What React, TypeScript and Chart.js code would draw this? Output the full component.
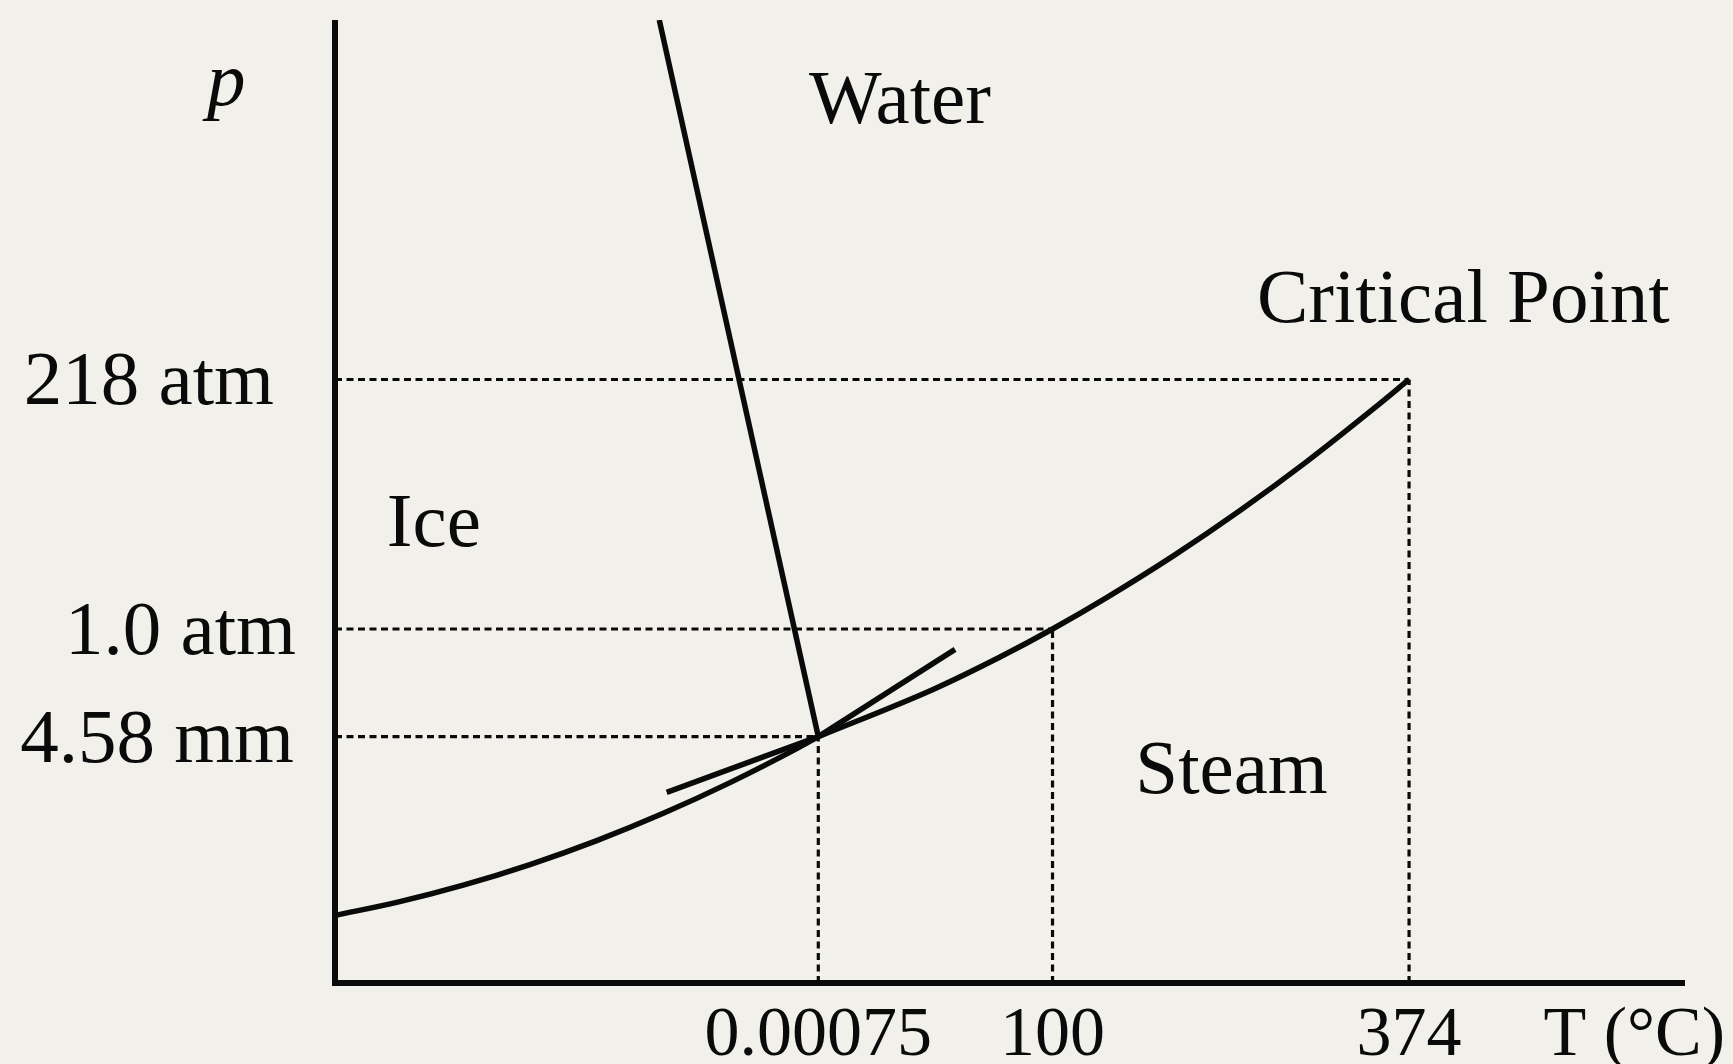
import React, { useEffect, useRef } from "react";
import { Chart, registerables } from "chart.js";

Chart.register(...registerables);

// Schematic phase diagram of water, in diagram units (0..100 on each axis)
const sublimationCurve = [
  { x: 0, y: 7.02 },
  { x: 4.57, y: 8.37 },
  { x: 9.5, y: 10.16 },
  { x: 14.44, y: 12.3 },
  { x: 19.39, y: 14.79 },
  { x: 24.32, y: 17.62 },
  { x: 29.26, y: 20.81 },
  { x: 34.2, y: 24.34 },
  { x: 35.8, y: 25.58 },
];
const vaporCurve = [
  { x: 35.8, y: 25.58 },
  { x: 44.3, y: 30.48 },
  { x: 49.26, y: 33.85 },
  { x: 53.15, y: 36.76 },
  { x: 57.16, y: 40.02 },
  { x: 62.1, y: 44.35 },
  { x: 67.04, y: 49.06 },
  { x: 71.98, y: 54.14 },
  { x: 76.91, y: 59.61 },
  { x: 79.56, y: 62.67 },
];
const meltingLine = [
  { x: 24.02, y: 100 },
  { x: 35.8, y: 25.58 },
];
const vaporExtension = [
  { x: 24.57, y: 19.8 },
  { x: 35.8, y: 25.58 },
];
const sublimationExtension = [
  { x: 35.8, y: 25.58 },
  { x: 45.93, y: 34.65 },
];

const xTickValues = [35.8, 53.15, 79.56];
const xTickLabels = ["0.00075", "100", "374"];
const yTickValues = [25.58, 36.76, 62.67];
const yTickLabels = ["4.58 mm", "1.0 atm", "218 atm"];
// right edge of each y tick label, in x units
const yTickLabelRight = [-3.04, -2.89, -4.52];

const regionLabels = ["Water", "Critical Point", "Ice", "Steam"];
const regionX = [41.85, 83.58, 7.32, 66.41];
const regionY = [89.27, 68.67, 45.38, 19.73];

const axisTitleX = "T (°C)";
const axisTitleY = "p";

const BG = "#f2f0eb";
const INK = "#0a0a0a";
const SERIF = '"Liberation Serif", "DejaVu Serif", serif';

export default function App() {
  const ref = useRef<HTMLCanvasElement | null>(null);

  useEffect(() => {
    document.body.style.margin = "0";
    document.body.style.background = BG;
    const canvas = ref.current;
    if (!canvas) return;

    const guideDatasets: any[] = [];
    xTickValues.forEach((xv, i) => {
      const yv = yTickValues[i];
      guideDatasets.push({
        data: [
          { x: 0, y: yv },
          { x: xv, y: yv },
        ],
      });
      guideDatasets.push({
        data: [
          { x: xv, y: 0 },
          { x: xv, y: yv },
        ],
      });
    });

    const guides = guideDatasets.map((d) => ({
      ...d,
      borderColor: INK,
      borderWidth: 3.2,
      borderDash: [7, 4.5],
      borderCapStyle: "butt",
      pointRadius: 0,
      fill: false,
      clip: false,
      order: 2,
    }));

    const solid = (data: any[], curved: boolean, clip: any = false) => ({
      data,
      borderColor: INK,
      borderWidth: 5.5,
      borderCapStyle: "butt",
      borderJoinStyle: "round",
      pointRadius: 0,
      fill: false,
      clip,
      cubicInterpolationMode: curved ? "monotone" : "default",
      tension: 0,
      order: 1,
    });

    const bgPlugin = {
      id: "bg",
      beforeDraw(chart: any) {
        const c = chart.ctx;
        c.save();
        c.fillStyle = BG;
        c.fillRect(0, 0, chart.width, chart.height);
        c.restore();
      },
    };

    const decorPlugin = {
      id: "decor",
      afterDatasetsDraw(chart: any) {
        const c = chart.ctx;
        const xs = chart.scales.x;
        const ys = chart.scales.y;
        const px = (v: number) => xs.getPixelForValue(v);
        const py = (v: number) => ys.getPixelForValue(v);
        c.save();
        // axes
        c.strokeStyle = INK;
        c.lineWidth = 6;
        c.lineJoin = "miter";
        c.lineCap = "butt";
        c.beginPath();
        c.moveTo(px(0), py(100));
        c.lineTo(px(0), py(0));
        c.lineTo(px(100), py(0));
        c.stroke();

        c.fillStyle = INK;
        // region labels
        c.font = `77px ${SERIF}`;
        c.textAlign = "center";
        c.textBaseline = "alphabetic";
        regionLabels.forEach((t, i) => c.fillText(t, px(regionX[i]), py(regionY[i])));

        // y tick labels
        c.textAlign = "right";
        yTickLabels.forEach((t, i) => c.fillText(t, px(yTickLabelRight[i]), py(yTickValues[i]) + 25));

        // y axis title
        c.font = `italic 77px ${SERIF}`;
        c.textAlign = "left";
        c.fillText(axisTitleY, px(-9.48), py(91.2));

        // x tick labels
        c.font = `70px ${SERIF}`;
        c.textAlign = "center";
        xTickLabels.forEach((t, i) => c.fillText(t, px(xTickValues[i]), py(-7.48)));
        c.textAlign = "right";
        c.fillText(axisTitleX, px(102.96), py(-7.48));
        c.restore();
      },
    };

    const chart = new Chart(canvas, {
      type: "line",
      data: {
        datasets: [
          solid(sublimationCurve, true),
          solid(vaporCurve, true),
          solid(meltingLine, false, 0),
          solid(vaporExtension, false),
          solid(sublimationExtension, false),
          ...guides,
        ] as any,
      },
      options: {
        animation: false,
        responsive: false,
        devicePixelRatio: 1,
        layout: { padding: { left: 335, right: 48, top: 20, bottom: 81 } },
        plugins: { legend: { display: false }, tooltip: { enabled: false } },
        events: [],
        scales: {
          x: { type: "linear", min: 0, max: 100, display: false },
          y: { type: "linear", min: 0, max: 100, display: false },
        },
      } as any,
      plugins: [bgPlugin, decorPlugin],
    });

    return () => chart.destroy();
  }, []);

  return <canvas ref={ref} width={1733} height={1064} style={{ display: "block", width: 1733, height: 1064 }} />;
}
